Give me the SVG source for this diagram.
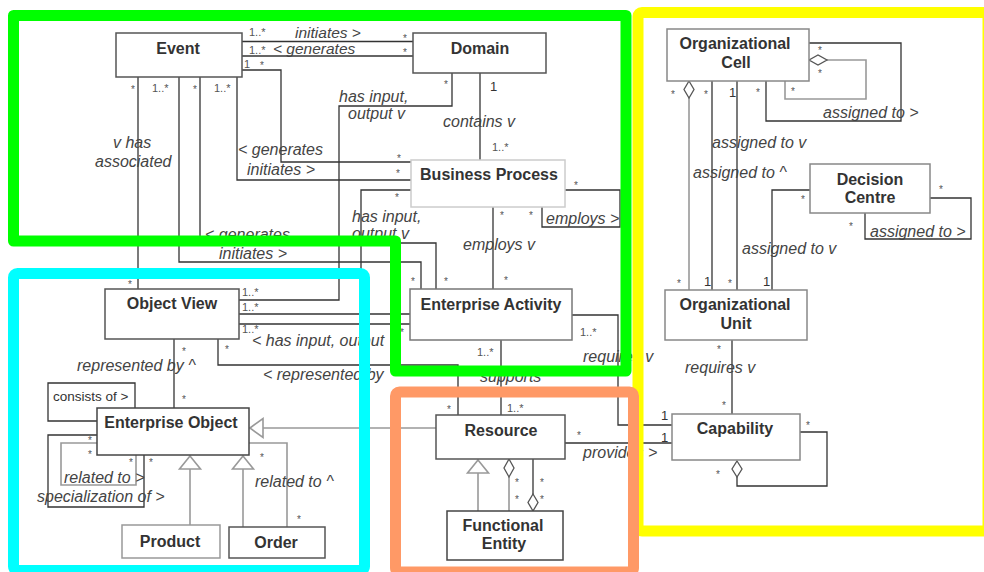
<svg xmlns="http://www.w3.org/2000/svg" width="984" height="572" viewBox="0 0 984 572">
<style>
.bg{fill:#fff}
.n{fill:#fff;stroke:#555;stroke-width:1.5}
.nl{fill:#fff;stroke:#ccc;stroke-width:1.5}
.ng{fill:#fff;stroke:#888;stroke-width:1.5}
.t{font-family:"Liberation Sans",Arial,sans-serif;font-weight:bold;font-size:16px;fill:#333;text-anchor:middle}
.c{fill:none;stroke:#333;stroke-width:1.3}
.g{fill:none;stroke:#999;stroke-width:1.6}
.tri{fill:#fff;stroke:#999;stroke-width:1.6}
.dia{fill:#fff;stroke:#555;stroke-width:1.3}
.lb{font-family:"Liberation Sans",Arial,sans-serif;font-style:italic;font-size:16px;fill:#444}
.up{font-family:"Liberation Sans",Arial,sans-serif;font-size:13.5px;fill:#333}
.m{font-family:"Liberation Sans",Arial,sans-serif;font-size:11px;fill:#555}
.s{font-family:"Liberation Sans",Arial,sans-serif;font-size:10px;fill:#555}
.one{font-family:"Liberation Sans",Arial,sans-serif;font-size:13px;fill:#333}
.fr{fill:none;stroke-width:11;stroke-linejoin:round}
</style>
<rect class="bg" x="0" y="0" width="984" height="572"/>
<g id="connectors">
  <path class="c" d="M242,41.5 H413"/>
  <path class="c" d="M242,56 H413"/>
  <path class="c" d="M242,70 H281 V162 H411"/>
  <path class="c" d="M237,77 V180 H411"/>
  <path class="c" d="M138,77 V289"/>
  <path class="c" d="M179,77 V262 H421 V289"/>
  <path class="c" d="M200,77 V243 H436 V289"/>
  <path class="c" d="M452,73 V106 H339 V300 H239"/>
  <path class="c" d="M480,73 V160"/>
  <path class="c" d="M411,190 H361 V314"/>
  <path class="c" d="M239,314 H410"/>
  <path class="c" d="M239,324 H410"/>
  <path class="c" d="M493,207 V289"/>
  <path class="c" d="M565,190 H620 V227 H542 V207"/>
  <path class="c" d="M218,339 V365 H458 V415"/>
  <path class="c" d="M174,339 V408"/>
  <path class="c" d="M501,340 V415"/>
  <path class="c" d="M572,315 H618 V425 H672"/>
  <path class="c" d="M565,443 H672"/>
  <path class="g" d="M436,428 H263"/>
  <polygon class="tri" points="250,428 263,418.5 263,437.5"/>
  <path class="g" d="M478,473 V511"/>
  <polygon class="tri" points="478,460 467.5,473 488.5,473"/>
  <path class="g" d="M509,477 V511"/>
  <polygon class="dia" points="509,459 514,468 509,477 504,468"/>
  <path class="c" d="M533,459 V495"/>
  <polygon class="dia" points="533,494 538,502.5 533,511 528,502.5"/>
  <path class="g" d="M190,469 V525"/>
  <polygon class="tri" points="190,456 179.5,469 200.5,469"/>
  <path class="g" d="M243,469 V527"/>
  <polygon class="tri" points="243,456 232.5,469 253.5,469"/>
  <path class="g" d="M249,443 H287 V527"/>
  <path class="c" d="M135,408 V383 H48 V421 H97"/>
  <path class="c" d="M97,435 H48 V507 H144 V455"/>
  <path class="g" d="M97,443 H61 V485 H136 V455"/>
  <path class="c" d="M809,43 H901 V121 H766 V81"/>
  <path class="g" d="M827,60 H866 V99 H785 V81"/>
  <polygon class="dia" points="809,60 818,55 827,60 818,65"/>
  <path class="g" d="M689,98 V290"/>
  <polygon class="dia" points="689,81 694,89.5 689,98 684,89.5"/>
  <path class="c" d="M712,81 V290"/>
  <path class="c" d="M737,81 V290"/>
  <path class="c" d="M810,190 H772 V290"/>
  <path class="c" d="M930,198 H971 V239 H865 V213"/>
  <path class="c" d="M732,340 V414"/>
  <path class="c" d="M800,432 H827 V486 H737 V477"/>
  <polygon class="dia" points="737,461 742,469 737,477 732,469"/>
</g>
<g id="labels">
  <text class="lb" x="295" y="38" style="font-size:15.5px">initiates &gt;</text>
  <text class="lb" x="273" y="54" style="font-size:15.5px">&lt; generates</text>
  <text class="lb" x="238" y="155">&lt; generates</text>
  <text class="lb" x="247" y="175">initiates &gt;</text>
  <text class="lb" x="113" y="148">v has</text>
  <text class="lb" x="95" y="167">associated</text>
  <text class="lb" x="205" y="240">&lt; generates</text>
  <text class="lb" x="219" y="259">initiates &gt;</text>
  <text class="lb" x="339" y="102">has input,</text>
  <text class="lb" x="348" y="119">output v</text>
  <text class="lb" x="443" y="127">contains v</text>
  <text class="lb" x="352" y="222">has input,</text>
  <text class="lb" x="352" y="239">output v</text>
  <text class="lb" x="463" y="250">employs v</text>
  <text class="lb" x="546" y="224">employs &gt;</text>
  <text class="lb" x="252" y="346">&lt; has input, output</text>
  <text class="lb" x="263" y="380">&lt; represented by</text>
  <text class="lb" x="77" y="371">represented by ^</text>
  <text class="lb" x="480" y="382">supports ^</text>
  <text class="lb" x="583" y="362">requires v</text>
  <text class="lb" x="583" y="458">provides &gt;</text>
  <text class="up" x="53" y="401">consists of &gt;</text>
  <text class="lb" x="64" y="483">related to &gt;</text>
  <text class="lb" x="37" y="502">specialization of &gt;</text>
  <text class="lb" x="255" y="487">related to ^</text>
  <text class="lb" x="823" y="118">assigned to &gt;</text>
  <text class="lb" x="712" y="148">assigned to v</text>
  <text class="lb" x="693" y="178">assigned to ^</text>
  <text class="lb" x="742" y="254">assigned to v</text>
  <text class="lb" x="870" y="237">assigned to &gt;</text>
  <text class="lb" x="685" y="373">requires v</text>
  <text class="m" x="249" y="36">1..*</text>
  <text class="s" x="403" y="42">*</text>
  <text class="m" x="249" y="54">1..*</text>
  <text class="s" x="403" y="56">*</text>
  <text class="m" x="244" y="68">1</text>
  <text class="s" x="260" y="69">*</text>
  <text class="s" x="397" y="162">*</text>
  <text class="s" x="396" y="177">*</text>
  <text class="s" x="395" y="201">*</text>
  <text class="s" x="131" y="93">*</text>
  <text class="m" x="152" y="92">1..*</text>
  <text class="s" x="193" y="93">*</text>
  <text class="m" x="214" y="92">1..*</text>
  <text class="s" x="128" y="288">*</text>
  <text class="s" x="444" y="88">*</text>
  <text class="one" x="490" y="91">1</text>
  <text class="m" x="492" y="151">1..*</text>
  <text class="s" x="500" y="219">*</text>
  <text class="s" x="529" y="219">*</text>
  <text class="s" x="574" y="189">*</text>
  <text class="s" x="411" y="285">*</text>
  <text class="s" x="444" y="285">*</text>
  <text class="s" x="504" y="284">*</text>
  <text class="m" x="242" y="296">1..*</text>
  <text class="m" x="242" y="311">1..*</text>
  <text class="m" x="242" y="333">1..*</text>
  <text class="s" x="400" y="336">*</text>
  <text class="s" x="225" y="353">*</text>
  <text class="s" x="182" y="355">*</text>
  <text class="s" x="182" y="403">*</text>
  <text class="m" x="477" y="356">1..*</text>
  <text class="m" x="580" y="336">1..*</text>
  <text class="s" x="447" y="413">*</text>
  <text class="m" x="507" y="412">1..*</text>
  <text class="one" x="661" y="420">1</text>
  <text class="one" x="661" y="442">1</text>
  <text class="s" x="577" y="439">*</text>
  <text class="s" x="515" y="486">*</text>
  <text class="s" x="515" y="503">*</text>
  <text class="s" x="540" y="486">*</text>
  <text class="s" x="540" y="503">*</text>
  <text class="s" x="88" y="444">*</text>
  <text class="s" x="88" y="458">*</text>
  <text class="s" x="149" y="466">*</text>
  <text class="s" x="129" y="466">*</text>
  <text class="s" x="260" y="461">*</text>
  <text class="s" x="297" y="523">*</text>
  <text class="s" x="818" y="54">*</text>
  <text class="s" x="818" y="77">*</text>
  <text class="s" x="791" y="95">*</text>
  <text class="s" x="756" y="96">*</text>
  <text class="s" x="671" y="98">*</text>
  <text class="s" x="704" y="98">*</text>
  <text class="one" x="729" y="97">1</text>
  <text class="s" x="677" y="287">*</text>
  <text class="one" x="704" y="286">1</text>
  <text class="s" x="728" y="287">*</text>
  <text class="one" x="763" y="286">1</text>
  <text class="s" x="801" y="203">*</text>
  <text class="s" x="939" y="193">*</text>
  <text class="s" x="849" y="230">*</text>
  <text class="s" x="717" y="353">*</text>
  <text class="s" x="722" y="409">*</text>
  <text class="s" x="806" y="429">*</text>
  <text class="s" x="716" y="478">*</text>
</g>
<g id="event"><rect class="n" x="116" y="33" width="126" height="44"/><text class="t" x="178" y="54">Event</text></g>
<g id="domain"><rect class="n" x="413" y="33" width="133" height="40"/><text class="t" x="480" y="54">Domain</text></g>
<g id="business-process"><rect class="nl" x="411" y="160" width="154" height="47"/><text class="t" x="489" y="180">Business Process</text></g>
<g id="enterprise-activity"><rect class="n" x="410" y="289" width="162" height="51" style="stroke:#777"/><text class="t" x="491" y="310">Enterprise Activity</text></g>
<g id="object-view"><rect class="n" x="105" y="289" width="134" height="50"/><text class="t" x="172" y="309">Object View</text></g>
<g id="enterprise-object"><rect class="n" x="97" y="408" width="152" height="47" style="stroke:#444"/><text class="t" x="171" y="428">Enterprise Object</text></g>
<g id="product"><rect class="n" x="122" y="525" width="98" height="33" style="stroke:#999"/><text class="t" x="170" y="547">Product</text></g>
<g id="order"><rect class="n" x="229" y="527" width="96" height="31"/><text class="t" x="276" y="548">Order</text></g>
<g id="resource"><rect class="n" x="436" y="415" width="129" height="44"/><text class="t" x="501" y="436">Resource</text></g>
<g id="functional-entity"><rect class="n" x="447" y="511" width="116" height="49" style="stroke:#444"/><text class="t" x="503" y="531">Functional</text><text class="t" x="504" y="549">Entity</text></g>
<g id="organizational-cell"><rect class="ng" x="667" y="29" width="142" height="52"/><text class="t" x="735" y="49">Organizational</text><text class="t" x="736" y="68">Cell</text></g>
<g id="decision-centre"><rect class="ng" x="810" y="164" width="120" height="49"/><text class="t" x="870" y="185">Decision</text><text class="t" x="870" y="203">Centre</text></g>
<g id="organizational-unit"><rect class="ng" x="665" y="290" width="142" height="50"/><text class="t" x="735" y="310">Organizational</text><text class="t" x="736" y="329">Unit</text></g>
<g id="capability"><rect class="ng" x="672" y="414" width="128" height="46"/><text class="t" x="735" y="434">Capability</text></g>
<g id="frames">
  <rect class="fr" x="638" y="12.5" width="350" height="518.5" rx="4" stroke="#ffff00"/>
  <path class="fr" d="M13.5,15.5 H626 V371 H395.5 V241 H13.5 Z" stroke="#00ff00"/>
  <rect class="fr" x="13.5" y="273.5" width="351" height="297" rx="4" stroke="#00ffff"/>
  <rect class="fr" x="395.5" y="392" width="238" height="180" rx="4" stroke="#ff9966"/>
</g>
</svg>
